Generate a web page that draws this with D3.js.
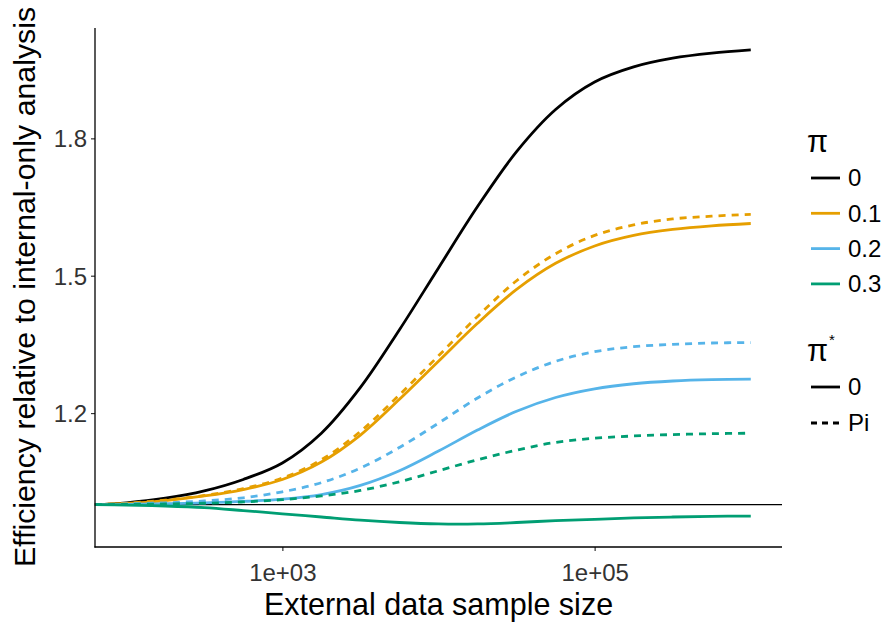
<!DOCTYPE html>
<html>
<head>
<meta charset="utf-8">
<script src="https://cdn.jsdelivr.net/npm/d3@7"></script>
<style>
  html, body { margin: 0; padding: 0; background: #fff; }
  svg text { font-family: "Liberation Sans", Arial, Helvetica, sans-serif; }
</style>
</head>
<body>
<svg id="chart" width="883" height="623"></svg>
<script>
// External sample sizes at which efficiency was evaluated
const sampleSize = [63, 100, 178, 316, 562, 1000, 1778, 3162, 5623, 10000,
                    17783, 31623, 56234, 100000, 177828, 316228, 562341, 1000000];

// Relative efficiency, one array per (pi, pi*) combination
const effPi0 = [1.000, 1.004, 1.014, 1.030, 1.055, 1.091, 1.156, 1.256, 1.382, 1.517,
                1.651, 1.771, 1.863, 1.923, 1.956, 1.975, 1.986, 1.993];
const effPi01Star0 = [1.000, 1.0025, 1.009, 1.019, 1.033, 1.055, 1.093, 1.152, 1.230, 1.313,
                      1.396, 1.470, 1.527, 1.565, 1.588, 1.601, 1.609, 1.614];
const effPi01StarPi = [1.000, 1.003, 1.010, 1.020, 1.035, 1.058, 1.098, 1.160, 1.240, 1.325,
                       1.411, 1.489, 1.548, 1.588, 1.611, 1.624, 1.630, 1.634];
const effPi02Star0 = [1.000, 1.0005, 1.002, 1.004, 1.007, 1.012, 1.022, 1.042, 1.074, 1.117,
                      1.163, 1.204, 1.234, 1.253, 1.264, 1.270, 1.273, 1.274];
const effPi02StarPi = [1.000, 1.0015, 1.004, 1.008, 1.015, 1.028, 1.048, 1.080, 1.125, 1.178,
                       1.233, 1.279, 1.313, 1.334, 1.345, 1.350, 1.353, 1.354];
const effPi03Star0 = [1.000, 0.999, 0.997, 0.9935, 0.987, 0.980, 0.973, 0.966, 0.961, 0.958,
                      0.958, 0.961, 0.965, 0.968, 0.971, 0.973, 0.9745, 0.975];
const effPi03StarPi = [1.000, 1.0005, 1.0015, 1.003, 1.006, 1.011, 1.019, 1.031, 1.050, 1.074,
                       1.098, 1.119, 1.136, 1.145, 1.150, 1.153, 1.155, 1.156];

const piLevels = ["0", "0.1", "0.2", "0.3"];
const piStarLevels = ["0", "Pi"];
const piColors = ["#000000", "#E69F00", "#56B4E9", "#009E73"];

const xTicks = [1e3, 1e5];
const xTickLabels = ["1e+03", "1e+05"];
const yTicks = [1.2, 1.5, 1.8];

const series = [
  { pi: "0",   star: "0",  values: effPi0 },
  { pi: "0.1", star: "0",  values: effPi01Star0 },
  { pi: "0.1", star: "Pi", values: effPi01StarPi },
  { pi: "0.2", star: "0",  values: effPi02Star0 },
  { pi: "0.2", star: "Pi", values: effPi02StarPi },
  { pi: "0.3", star: "0",  values: effPi03Star0 },
  { pi: "0.3", star: "Pi", values: effPi03StarPi }
];

const panel = { left: 95, right: 782, top: 28, bottom: 547 };
const svg = d3.select("#chart");

const x = d3.scaleLog().domain([Math.pow(10, 1.8), Math.pow(10, 6.2)])
  .range([panel.left, panel.right]);
const y = d3.scaleLinear().domain([0.9075, 2.041])
  .range([panel.bottom, panel.top]);
const color = d3.scaleOrdinal().domain(piLevels).range(piColors);
const dash = d3.scaleOrdinal().domain(piStarLevels).range(["none", "7,6"]);

const lineW = 2.8;
const tickFont = 24;
const titleFont = 30.5;

// reference line at equal efficiency
svg.append("line")
  .attr("x1", panel.left).attr("x2", panel.right)
  .attr("y1", y(1)).attr("y2", y(1))
  .attr("stroke", "#000").attr("stroke-width", 1.3);

const line = d3.line()
  .x((d, i) => x(sampleSize[i]))
  .y(d => y(d))
  .curve(d3.curveCatmullRom.alpha(0.5));

svg.append("g").selectAll("path")
  .data(series)
  .join("path")
  .attr("d", d => line(d.values))
  .attr("fill", "none")
  .attr("stroke", d => color(d.pi))
  .attr("stroke-width", lineW)
  .attr("stroke-dasharray", d => dash(d.star));

// axes
const xAxis = d3.axisBottom(x).tickValues(xTicks)
  .tickFormat((d, i) => xTickLabels[i]).tickSize(4).tickPadding(4);
const yAxis = d3.axisLeft(y).tickValues(yTicks)
  .tickFormat(d3.format(".1f")).tickSize(4).tickPadding(4);

const gx = svg.append("g").attr("transform", `translate(0,${panel.bottom})`).call(xAxis);
const gy = svg.append("g").attr("transform", `translate(${panel.left},0)`).call(yAxis);

[gx, gy].forEach(g => {
  g.select(".domain").remove();
  g.selectAll(".tick line").attr("stroke", "#333").attr("stroke-width", 1.2);
  g.selectAll(".tick text").attr("fill", "#333").attr("font-size", tickFont)
    .attr("font-family", "Liberation Sans, Arial, sans-serif");
});
gx.selectAll(".tick text").attr("y", 34).attr("dy", 0);
gy.selectAll(".tick text").attr("dy", "0.35em");

svg.append("line")
  .attr("x1", panel.left).attr("x2", panel.left)
  .attr("y1", panel.top).attr("y2", panel.bottom + 0.6)
  .attr("stroke", "#000").attr("stroke-width", 1.3);
svg.append("line")
  .attr("x1", panel.left - 0.6).attr("x2", panel.right)
  .attr("y1", panel.bottom).attr("y2", panel.bottom)
  .attr("stroke", "#000").attr("stroke-width", 1.3);

// axis titles
svg.append("text")
  .attr("x", (panel.left + panel.right) / 2).attr("y", 614.5)
  .attr("text-anchor", "middle").attr("font-size", titleFont).attr("fill", "#000")
  .text("External data sample size");

svg.append("text")
  .attr("transform", "translate(35,287) rotate(-90)")
  .attr("text-anchor", "middle").attr("font-size", 30.3).attr("fill", "#000")
  .text("Efficiency relative to internal-only analysis");

// legends
const leg = svg.append("g");
leg.append("text").attr("x", 807).attr("y", 152)
  .attr("font-size", titleFont).text("\u03C0");
piLevels.forEach((p, i) => {
  const yy = 178 + i * 35.3;
  leg.append("line").attr("x1", 811).attr("x2", 840).attr("y1", yy).attr("y2", yy)
    .attr("stroke", color(p)).attr("stroke-width", lineW);
  leg.append("text").attr("x", 848).attr("y", yy).attr("dy", "0.35em")
    .attr("font-size", tickFont).attr("fill", "#000").text(p);
});

const starTitle = leg.append("text").attr("x", 807).attr("y", 361)
  .attr("font-size", titleFont);
starTitle.append("tspan").text("\u03C0");
starTitle.append("tspan").attr("dx", 1).attr("dy", -16).attr("font-size", 15).text("*");

piStarLevels.forEach((s, i) => {
  const yy = 387 + i * 36;
  leg.append("line").attr("x1", 811).attr("x2", 840).attr("y1", yy).attr("y2", yy)
    .attr("stroke", "#000").attr("stroke-width", lineW)
    .attr("stroke-dasharray", s === "Pi" ? "6,5" : "none");
  leg.append("text").attr("x", 848).attr("y", yy).attr("dy", "0.35em")
    .attr("font-size", tickFont).attr("fill", "#000").text(s);
});
</script>
</body>
</html>
